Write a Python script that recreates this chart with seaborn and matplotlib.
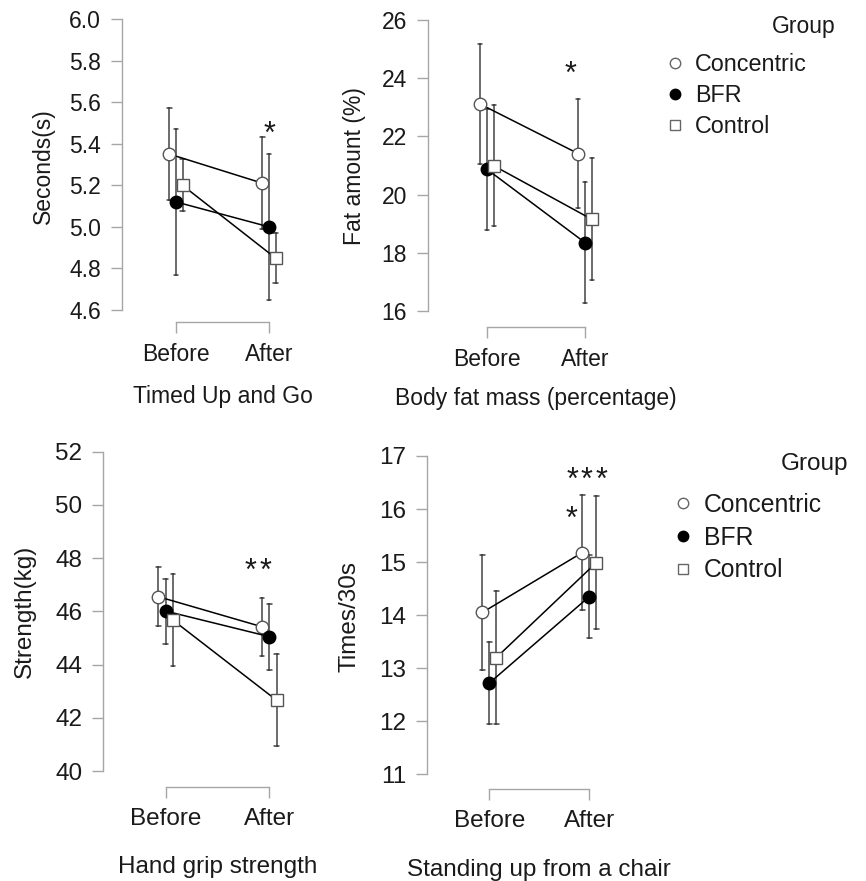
import matplotlib
matplotlib.use("Agg")
import matplotlib.pyplot as plt
import matplotlib.transforms as mtransforms
from matplotlib.lines import Line2D
import seaborn as sns
import pandas as pd

# 分组与时间点
groups = ["Concentric", "BFR", "Control"]
times = ["Before", "After"]

# Timed Up and Go：均值与标准差
tug_mean = {"Concentric": [5.35, 5.21], "BFR": [5.12, 5.00], "Control": [5.20, 4.85]}
tug_sd = {"Concentric": [0.22, 0.22], "BFR": [0.35, 0.35], "Control": [0.125, 0.12]}
tug_ticks = [4.6, 4.8, 5.0, 5.2, 5.4, 5.6, 5.8, 6.0]

# 体脂百分比
fat_mean = {"Concentric": [23.11, 21.41], "BFR": [20.87, 18.35], "Control": [20.99, 19.15]}
fat_sd = {"Concentric": [2.06, 1.86], "BFR": [2.07, 2.08], "Control": [2.08, 2.10]}
fat_ticks = [16, 18, 20, 22, 24, 26]

# 握力
grip_mean = {"Concentric": [46.55, 45.42], "BFR": [46.01, 45.05], "Control": [45.67, 42.66]}
grip_sd = {"Concentric": [1.10, 1.10], "BFR": [1.22, 1.24], "Control": [1.74, 1.72]}
grip_ticks = [40, 42, 44, 46, 48, 50, 52]

# 坐站测试
chair_mean = {"Concentric": [14.05, 15.18], "BFR": [12.72, 14.35], "Control": [13.20, 14.99]}
chair_sd = {"Concentric": [1.08, 1.09], "BFR": [0.78, 0.79], "Control": [1.25, 1.26]}
chair_ticks = [11, 12, 13, 14, 15, 16, 17]

W, H = 866, 881
SPINE = "#a6a6a6"
TXT = "#1a1a1a"

sns.set_theme(style="ticks")
plt.rcParams["font.family"] = ["Liberation Sans", "DejaVu Sans"]

fig = plt.figure(figsize=(W / 100, H / 100), dpi=100)
fig.patch.set_facecolor("white")
# 以参考图像素（左上角为原点）定位
PX = mtransforms.Affine2D().scale(1 / W, -1 / H).translate(0, 1) + fig.transFigure


def long_table(mean, sd):
    rows = []
    for g in groups:
        for i, t in enumerate(times):
            m, s = mean[g][i], sd[g][i]
            for v in (m - s, m, m + s):
                rows.append({"group": g, "time": t, "value": v})
    return pd.DataFrame(rows)


def lims(p0, p1, v0, v1, b0, b1):
    k = (v1 - v0) / (p1 - p0)
    return v0 + (b0 - p0) * k, v0 + (b1 - p0) * k


panels = [
    dict(mean=tug_mean, sd=tug_sd, ticks=tug_ticks, fmt="{:.1f}", box=(122, 8, 300, 322),
         cat=(176, 269), ypx=(310, 19), fs=16.5, title="Timed Up and Go", tpos=(222.5, 397),
         ylabel="Seconds(s)", ypos=(43, 166), stars=[(1, 1.0, 5.49)], legend=None),
    dict(mean=fat_mean, sd=fat_sd, ticks=fat_ticks, fmt="{:d}", box=(428, 8, 620, 327),
         cat=(487, 585), ypx=(311, 20), fs=16.5, title="Body fat mass (percentage)", tpos=(536, 399),
         ylabel="Fat amount (%)", ypos=(355, 166), stars=[(1, 0.85, 24.45)],
         legend=dict(anchor=(666, 53), group=(836, 27))),
    dict(mean=grip_mean, sd=grip_sd, ticks=grip_ticks, fmt="{:d}", box=(103, 438, 300, 787),
         cat=(165.7, 269.3), ypx=(771, 451.7), fs=17.5, title="Hand grip strength", tpos=(217.5, 867),
         ylabel="Strength(kg)", ypos=(25, 611), stars=[(2, 0.89, 47.86)], legend=None),
    dict(mean=chair_mean, sd=chair_sd, ticks=chair_ticks, fmt="{:d}", box=(427, 438, 620, 789),
         cat=(489.3, 589.3), ypx=(774.3, 456), fs=17.5, title="Standing up from a chair", tpos=(539.3, 870),
         ylabel="Times/30s", ypos=(350, 617), stars=[(3, 0.974, 16.72), (1, 0.824, 15.98)],
         legend=dict(anchor=(673, 493), group=(848, 464))),
]

for p in panels:
    l, t, r, b = p["box"]
    ax = fig.add_axes([l / W, 1 - b / H, (r - l) / W, (b - t) / H])
    df = long_table(p["mean"], p["sd"])
    sns.pointplot(data=df, x="time", y="value", hue="group", order=times, hue_order=groups,
                  estimator="median", errorbar=lambda v: (v.min(), v.max()),
                  dodge=0.14, markers=["o", "o", "s"], linestyles="-",
                  palette={g: "black" for g in groups}, capsize=0.045,
                  err_kws={"color": "#444444", "linewidth": 1.1},
                  linewidth=1.1, markersize=9, markeredgewidth=1.0,
                  legend=False, ax=ax)

    # 空心/实心标记
    mk = [ln for ln in ax.lines if ln.get_marker() not in ("None", None, "")]
    for ln, g in zip(mk, groups):
        ln.set_zorder(4)
        if g == "BFR":
            ln.set_markerfacecolor("black")
            ln.set_markeredgecolor("black")
        else:
            ln.set_markerfacecolor("white")
            ln.set_markeredgecolor("#555555")

    ticks = p["ticks"]
    ax.set_xlim(*lims(p["cat"][0], p["cat"][1], 0, 1, l, r))
    ax.set_ylim(*lims(p["ypx"][0], p["ypx"][1], ticks[0], ticks[-1], b, t))
    ax.set_yticks(ticks)
    ax.set_yticklabels([p["fmt"].format(v) for v in ticks])
    ax.set_xticks([0, 1])
    ax.set_xticklabels(times)

    ax.spines[["top", "right"]].set_visible(False)
    ax.spines["left"].set_bounds(ticks[0], ticks[-1])
    ax.spines["bottom"].set_bounds(0, 1)
    for s in ["left", "bottom"]:
        ax.spines[s].set_color(SPINE)
        ax.spines[s].set_linewidth(1.0)
    ax.tick_params(colors=SPINE, labelcolor=TXT, length=8, width=1.0, labelsize=p["fs"], pad=7)
    ax.set_facecolor("none")

    ax.set_xlabel(p["title"], fontsize=p["fs"], color=TXT)
    ax.xaxis.set_label_coords(*p["tpos"], transform=PX)
    ax.xaxis.label.set_va("center")
    ax.set_ylabel(p["ylabel"], fontsize=p["fs"], color=TXT)
    ax.yaxis.set_label_coords(*p["ypos"], transform=PX)
    ax.yaxis.label.set_va("center")

    # 显著性标记（星号逐个放置，间距略宽）
    for n, sx, sy in p["stars"]:
        for i in range(n):
            dx = (i - (n - 1) / 2) * 10.5
            ax.annotate("*", (sx, sy), xytext=(dx, -7), textcoords="offset points",
                        ha="center", va="center", fontsize=22, color=TXT)

    if p["legend"]:
        handles = [
            Line2D([], [], ls="none", marker="o", ms=7.5, mfc="white", mec="#666666", mew=1.0),
            Line2D([], [], ls="none", marker="o", ms=7.5, mfc="black", mec="black", mew=1.0),
            Line2D([], [], ls="none", marker="s", ms=7.5, mfc="white", mec="#666666", mew=1.0),
        ]
        ax.legend(handles, groups, loc="upper left", bbox_to_anchor=p["legend"]["anchor"],
                  bbox_transform=PX, frameon=False, fontsize=p["fs"] + 0.3, handlelength=0.8,
                  handletextpad=0.45, labelspacing=0.35, borderpad=0, borderaxespad=0,
                  labelcolor=TXT)
        fig.text(*p["legend"]["group"], "Group", transform=PX, ha="right", va="center",
                 fontsize=p["fs"], color=TXT)

fig.savefig("out.png", dpi=100)
